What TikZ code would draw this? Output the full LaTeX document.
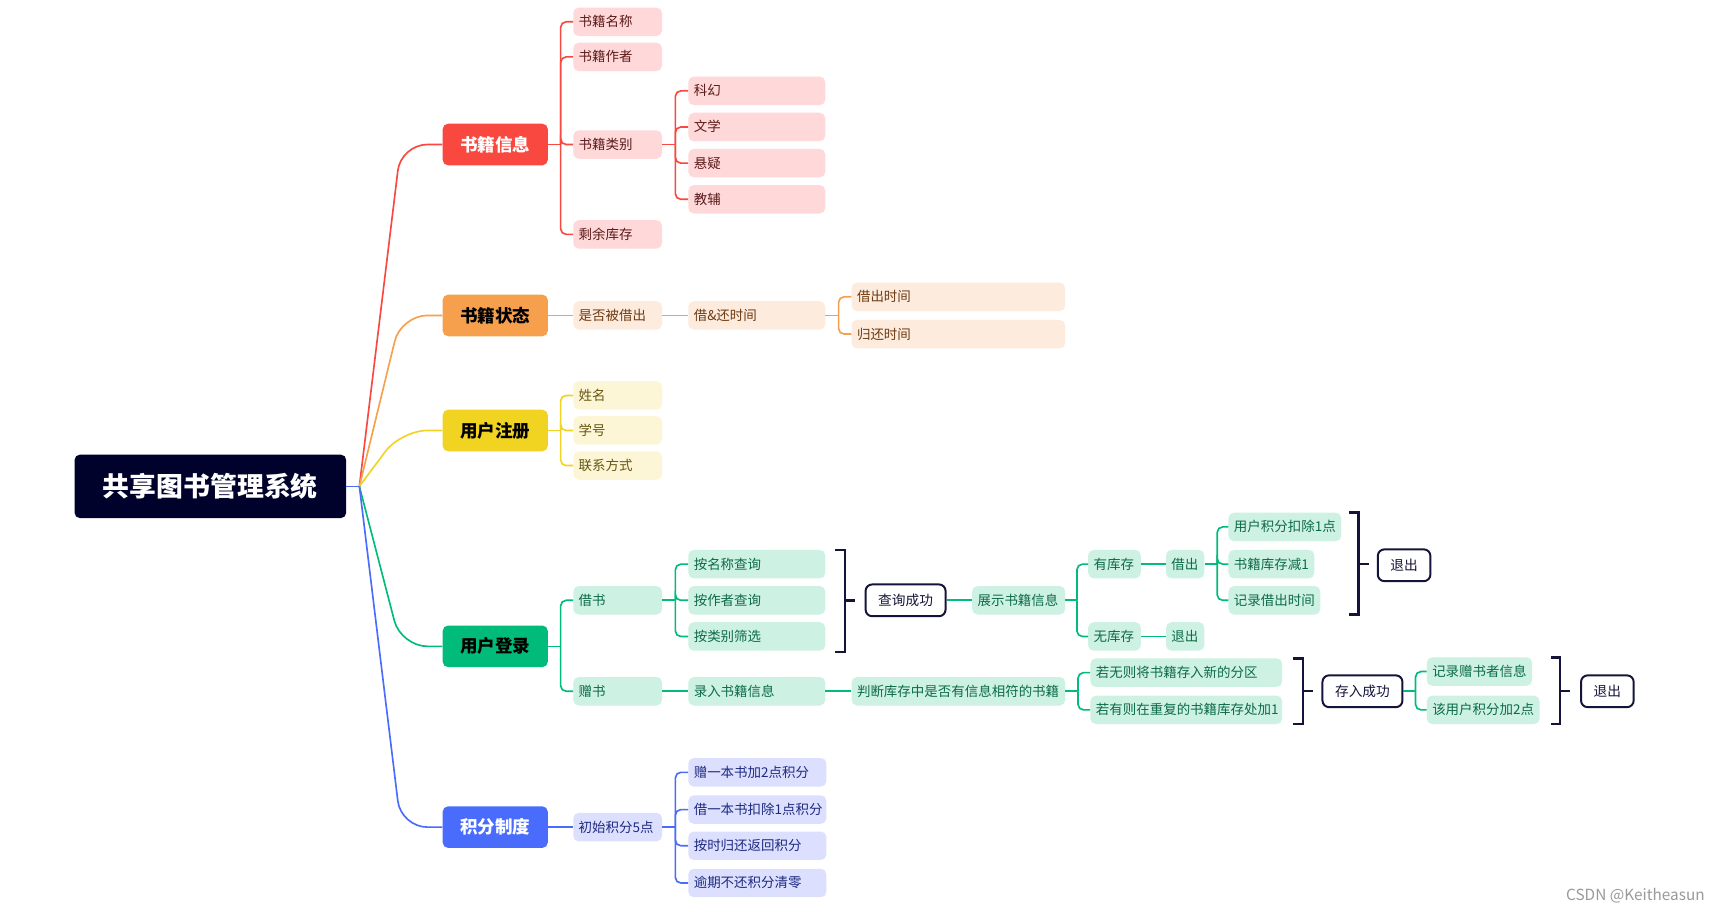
\documentclass[tikz,border=0pt]{standalone}
\usepackage{fontspec}
\setmainfont{Noto Sans CJK SC}
\usetikzlibrary{calc}
\definecolor{rootc}{HTML}{01022B}
\definecolor{redC}{HTML}{F94840}
\definecolor{redL}{HTML}{FFD9D9}
\definecolor{redT}{HTML}{5C1A1A}
\definecolor{orC}{HTML}{F6A04D}
\definecolor{orL}{HTML}{FDEBDD}
\definecolor{orT}{HTML}{6E3B12}
\definecolor{yeC}{HTML}{F1D322}
\definecolor{yeL}{HTML}{FDF6D6}
\definecolor{yeT}{HTML}{66560E}
\definecolor{grC}{HTML}{00BB7A}
\definecolor{grL}{HTML}{CDF1E3}
\definecolor{grT}{HTML}{0D6B47}
\definecolor{blC}{HTML}{4A6CFD}
\definecolor{blL}{HTML}{DCE0FE}
\definecolor{blT}{HTML}{1E2A80}
\definecolor{navy}{HTML}{14143A}
\definecolor{wmark}{HTML}{9A9A9A}
\newcommand\mmbranch[4]{%
  \draw[#1] (#2.east) -- ++(#3,0) coordinate (#2t);
  \foreach \ch in {#4}{\draw[#1,rounded corners=5pt] (#2t) |- (\ch.west);}
}
\begin{document}
\begin{tikzpicture}[x=1pt,y=-1pt,
  rootst/.style={fill=rootc, rounded corners=5pt, minimum width=248pt, minimum height=58pt,
    inner sep=0pt, text height=20pt, text depth=1.4pt, text=white,
    font=\fontsize{24.5}{28}\selectfont\bfseries},
  lone/.style={rounded corners=5pt, minimum width=96pt, minimum height=38pt, inner sep=0pt,
    text height=13pt, text depth=1pt, font=\fontsize{16}{18}\selectfont\bfseries},
  leaf/.style={anchor=west, rounded corners=5pt, minimum height=26pt, inner xsep=5pt,
    inner ysep=0pt, text height=10pt, text depth=1pt, font=\fontsize{12.3}{14}\selectfont},
  tw/.style={text width=#1pt, align=left},
  rleaf/.style={leaf, fill=redL, text=redT},
  oleaf/.style={leaf, fill=orL, text=orT},
  yleaf/.style={leaf, fill=yeL, text=yeT},
  gleaf/.style={leaf, fill=grL, text=grT},
  bleaf/.style={leaf, fill=blL, text=blT},
  outl/.style={draw=navy, line width=1.8pt, fill=white, rounded corners=6pt, minimum height=29pt,
    inner xsep=11.5pt, inner ysep=0pt, text height=10.2pt, text depth=1pt, text=navy,
    font=\fontsize{12.5}{14}\selectfont},
  conn/.style={line width=1.5pt},
  brk/.style={draw=navy, line width=2.2pt, line join=miter}
]
\useasboundingbox (0,0) rectangle (1568,832);
\fill[white] (0,0) rectangle (1568,832);

\begin{scope}[yshift=-0.9pt]
% root
\node[rootst] (root) at (192,443) {共享图书管理系统};
\coordinate (hub) at (328,443);
\coordinate (corner) at (366,0);

% level 1
\node[lone, fill=redC, text=white] (b1) at (452,131) {书籍信息};
\node[lone, fill=orC, text=black] (b2) at (452,287) {书籍状态};
\node[lone, fill=yeC, text=black] (b3) at (452,392) {用户注册};
\node[lone, fill=grC, text=black] (b4) at (452,589) {用户登录};
\node[lone, fill=blC, text=white] (b5) at (452,754) {积分制度};

% red branch
\node[rleaf, tw=71] (b1a) at (523,19) {书籍名称};
\node[rleaf, tw=71] (b1b) at (523,51) {书籍作者};
\node[rleaf, tw=71] (b1c) at (523,131) {书籍类别};
\node[rleaf, tw=71] (b1d) at (523,213) {剩余库存};
\node[rleaf, tw=115] (b1c1) at (628,82) {科幻};
\node[rleaf, tw=115] (b1c2) at (628,115) {文学};
\node[rleaf, tw=115] (b1c3) at (628,148) {悬疑};
\node[rleaf, tw=115] (b1c4) at (628,181) {教辅};

% orange branch
\node[oleaf, tw=71] (b2a) at (523,287) {是否被借出};
\node[oleaf, tw=115] (b2b) at (628,287) {借\&还时间};
\node[oleaf, tw=185] (b2b1) at (777,270) {借出时间};
\node[oleaf, tw=185] (b2b2) at (777,304) {归还时间};

% yellow branch
\node[yleaf, tw=71] (b3a) at (523,360) {姓名};
\node[yleaf, tw=71] (b3b) at (523,392) {学号};
\node[yleaf, tw=71] (b3c) at (523,424) {联系方式};

% green branch
\node[gleaf, tw=71] (b4a) at (523,547) {借书};
\node[gleaf, tw=71] (b4b) at (523,630) {赠书};
\node[gleaf, tw=115] (q1) at (628,514) {按名称查询};
\node[gleaf, tw=115] (q2) at (628,547) {按作者查询};
\node[gleaf, tw=115] (q3) at (628,580) {按类别筛选};
\node[outl] (qok) at (826.5,547) {查询成功};
\node[gleaf, tw=75] (show) at (887,547) {展示书籍信息};
\node[gleaf, tw=38] (has) at (993,514) {有库存};
\node[gleaf, tw=38] (none) at (993,580) {无库存};
\node[gleaf, tw=25] (lend) at (1064,514) {借出};
\node[gleaf, tw=25] (quit1) at (1064,580) {退出};
\node[gleaf] (l1) at (1121,480) {用户积分扣除1点};
\node[gleaf] (l2) at (1121,514) {书籍库存减1};
\node[gleaf] (l3) at (1121,547) {记录借出时间};
\node[outl] (quit2) at (1281.5,515) {退出};
\node[gleaf, tw=115] (rec) at (628,630) {录入书籍信息};
\node[gleaf, tw=185] (judge) at (777,630) {判断库存中是否有信息相符的书籍};
\node[gleaf, tw=165] (j1) at (995,613) {若无则将书籍存入新的分区};
\node[gleaf, tw=165] (j2) at (995,647) {若有则在重复的书籍库存处加1};
\node[outl] (stored) at (1243.5,630) {存入成功};
\node[gleaf] (s1) at (1302,612) {记录赠书者信息};
\node[gleaf] (s2) at (1302,647) {该用户积分加2点};
\node[outl] (quit3) at (1467,630) {退出};

% blue branch
\node[bleaf, tw=71] (b5a) at (523,754) {初始积分5点};
\node[bleaf, tw=116] (p1) at (628,704) {赠一本书加2点积分};
\node[bleaf, tw=116] (p2) at (628,738) {借一本书扣除1点积分};
\node[bleaf, tw=116] (p3) at (628,771) {按时归还返回积分};
\node[bleaf, tw=116] (p4) at (628,805) {逾期不还积分清零};

% root connectors
\draw[conn, blC] (root.east) -- (hub);
\draw[conn, redC, rounded corners=24pt] (hub) -- (b1.west -| corner) -- (b1.west);
\draw[conn, orC, rounded corners=24pt] (hub) -- (b2.west -| corner) -- (b2.west);
\draw[conn, yeC, rounded corners=24pt] (hub) -- (b3.west -| corner) -- (b3.west);
\draw[conn, grC, rounded corners=24pt] (hub) -- (b4.west -| corner) -- (b4.west);
\draw[conn, blC, rounded corners=24pt] (hub) -- (b5.west -| corner) -- (b5.west);

% branch connectors
\mmbranch{conn,redC}{b1}{11.5}{b1a,b1b,b1c,b1d}
\mmbranch{conn,redC}{b1c}{12}{b1c1,b1c2,b1c3,b1c4}
\draw[conn, orC] (b2.east) -- (b2a.west);
\draw[conn, orC] (b2a.east) -- (b2b.west);
\mmbranch{conn,orC}{b2b}{12}{b2b1,b2b2}
\mmbranch{conn,yeC}{b3}{11.5}{b3a,b3b,b3c}
\mmbranch{conn,grC}{b4}{11.5}{b4a,b4b}
\mmbranch{conn,grC}{b4a}{12}{q1,q2,q3}
\draw[conn, grC] (qok.east) -- (show.west);
\mmbranch{conn,grC}{show}{10.5}{has,none}
\draw[conn, grC] (has.east) -- (lend.west);
\draw[conn, grC] (none.east) -- (quit1.west);
\mmbranch{conn,grC}{lend}{11.5}{l1,l2,l3}
\draw[conn, grC] (b4b.east) -- (rec.west);
\draw[conn, grC] (rec.east) -- (judge.west);
\mmbranch{conn,grC}{judge}{11.5}{j1,j2}
\mmbranch{conn,grC}{stored}{11}{s1,s2}
\draw[conn, blC] (b5.east) -- (b5a.west);
\mmbranch{conn,blC}{b5a}{12}{p1,p2,p3,p4}

% brackets
\draw[brk] (762,501) -- (771,501) -- (771,594) -- (762,594);
\draw[brk] (771,547) -- (780,547);
\draw[brk] (1231,467) -- (1240,467) -- (1240,560) -- (1231,560);
\draw[brk] (1240,514) -- (1249,514);
\draw[brk] (1180,600) -- (1189,600) -- (1189,660) -- (1180,660);
\draw[brk] (1189,630) -- (1198,630);
\draw[brk] (1416,599) -- (1424,599) -- (1424,660) -- (1416,660);
\draw[brk] (1424,630) -- (1433,630);

% watermark
\node[anchor=east, text=wmark, inner sep=0pt, font=\fontsize{14}{16}\selectfont] (wm) at (1556,817) {CSDN @Keitheasun};
\end{scope}
\end{tikzpicture}
\end{document}
